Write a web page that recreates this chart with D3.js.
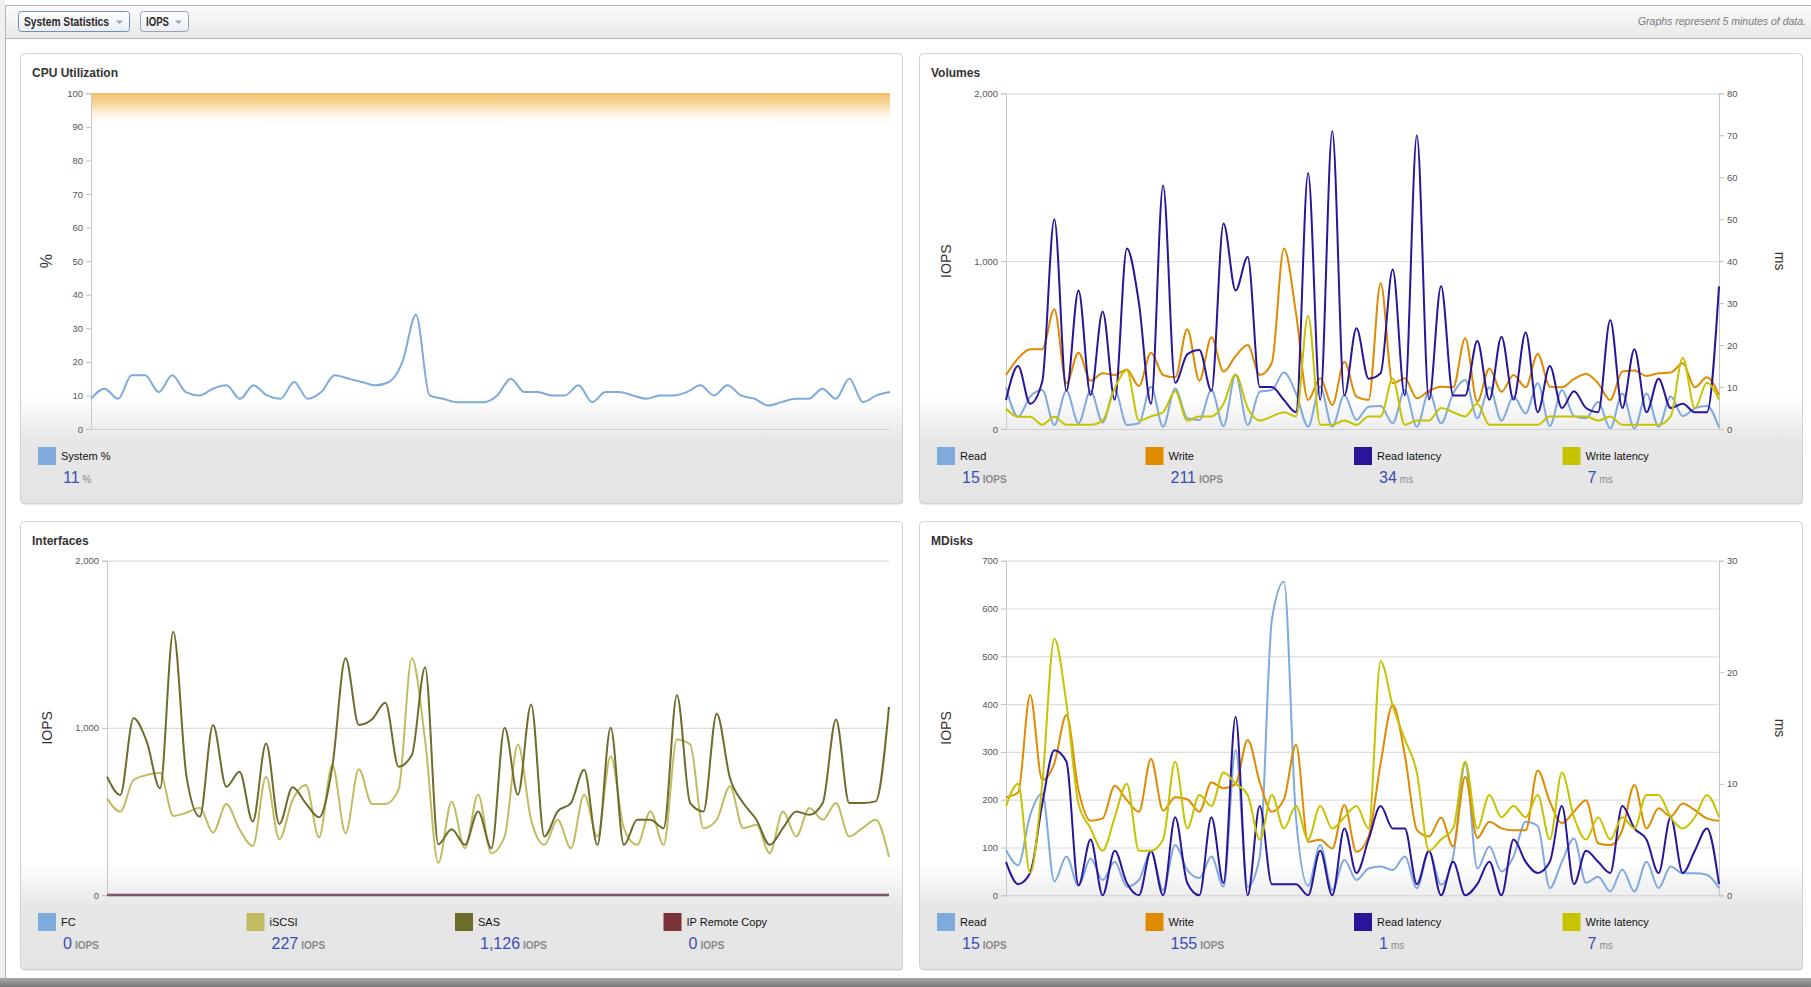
<!DOCTYPE html>
<html><head><meta charset="utf-8">
<script src="https://cdn.jsdelivr.net/npm/d3@7"></script>
<style>
html,body{margin:0;padding:0;background:#fff;}
svg{display:block;font-family:"Liberation Sans",Arial,sans-serif;}
</style></head>
<body>
<svg id="c" width="1811" height="987"></svg>
<script>
// ---------------- DATA ----------------
const cpuSystem = [9,12,9,16,16,11,16,11,10,12,13,9,13,10,9,14,9,11,16,15,14,13,14,20,34,10,9,8,
  8,8,10,15,11,11,10,10,13,8,11,11,10,9,10,10,11,13,10,13,10,9,7,8,9,9,12,9,15,8,10,11];

const volRead = [248,73,193,232,24,228,34,228,38,232,24,34,252,14,242,64,54,232,18,322,
  24,222,232,336,212,14,252,14,202,54,133,137,34,232,14,222,34,212,292,64,
  248,50,193,93,272,18,232,77,64,163,4,212,4,212,14,193,77,123,137,8];
const volWrite = [322,421,475,475,713,272,455,288,332,322,355,256,455,322,308,594,288,546,342,435,
  500,322,395,1076,689,173,302,143,401,193,173,868,272,302,183,228,252,248,540,163,
  361,222,322,248,447,252,248,298,328,272,173,342,348,316,332,336,391,248,308,202];
const volReadLatency = [6.9,15,6,11.3,50,9.1,33,8.1,28,7,43,30,6,58,11,17.8,18.8,9.1,49,33,
  41,10,10,6.9,4,61,6.9,71,8,24,12,13.3,38,8,70,7,34,8,8,21,
  7,22,7,23,4,15,5,9,5,4,26,5,19,4,12,5,6,4,4,34];
const volWriteLatency = [4.9,2.9,2.9,1,2.9,1,1,1,2,9.7,14,2,3,4,9,2,3,3,6,13,
  5,2,3,4,3,27,1,1,2,1,3,3,12,1,2,2,5,4,3,6,
  1,1,1,1,1,3,3,3,3,2,3,1,1,1,1,3,17,5,11,7];

const ifFC = [0,0,0,0,0,0,0,0,0,0,0,0,0,0,0,0,0,0,0,0,0,0,0,0,0,0,0,0,0,0,
  0,0,0,0,0,0,0,0,0,0,0,0,0,0,0,0,0,0,0,0,0,0,0,0,0,0,0,0,0,0];
const ifISCSI = [578,498,688,718,732,473,493,522,373,544,393,293,708,333,568,658,345,778,369,752,
  544,544,632,1416,927,193,558,280,600,250,350,900,450,300,450,280,600,350,830,400,
  300,500,300,930,900,400,450,650,400,420,250,500,350,520,450,550,350,400,450,227];
const ifSAS = [708,598,1057,917,638,1575,708,469,1017,648,738,439,907,425,644,548,465,768,1416,1017,
  1051,1150,768,837,1362,303,393,300,500,280,1000,600,1140,350,500,550,750,300,1000,300,
  450,450,400,1195,550,500,1085,700,550,450,300,400,500,480,550,1050,550,550,560,1126];
const ifIPRemoteCopy = [0,0,0,0,0,0,0,0,0,0,0,0,0,0,0,0,0,0,0,0,0,0,0,0,0,0,0,0,0,0,
  0,0,0,0,0,0,0,0,0,0,0,0,0,0,0,0,0,0,0,0,0,0,0,0,0,0,0,0,0,0];

const mdRead = [95,63,168,213,29,81,20,77,32,70,18,32,91,11,105,53,36,81,18,304,
  18,81,576,656,161,20,105,11,74,32,56,60,53,81,15,91,22,81,275,56,
  102,50,81,154,145,15,70,119,26,39,8,54,8,70,15,60,46,46,43,15];
const mdWrite = [205,215,419,241,276,377,220,156,161,229,199,175,285,177,205,201,175,236,224,233,
  325,236,175,201,315,112,116,98,189,91,123,276,398,294,137,123,162,102,248,120,
  154,140,136,136,261,196,151,175,199,109,105,137,231,140,182,165,192,178,161,156];
const mdReadLatency = [3,1,2,8.2,13,12,0.9,5,0,4,1.1,0,4,0,7,1.1,0,7,1.1,16,
  0,8,1,1,1,0,4,0,6,2,5,8,6,6,1,4,0,3,0,1,
  3,0,5,3,2,3,8,1,4,3,2,8,6,5,2,7,2,4,6,1];
const mdWriteLatency = [8,10,2,10,23,17.2,8.2,6,4,7,10,4,4,5,12,6,9,8,11,10,
  9,5,9,6,8,5,8,6,7,8,6,21,17,14,11,4,5,6,12,6,
  9,7,8,7,9,5,11,7,5,7,5,7,6,9,9,7,6,7,9,7];

const cpuTicks = [0,10,20,30,40,50,60,70,80,90,100];
const volIopsTicks = [0,1000,2000];
const volMsTicks = [0,10,20,30,40,50,60,70,80];
const ifTicks = [0,1000,2000];
const mdIopsTicks = [0,100,200,300,400,500,600,700];
const mdMsTicks = [0,10,20,30];

const cpuLegend = [{name:"System %", value:"11", unit:"%"}];
const volLegend = [{name:"Read",value:"15",unit:"IOPS"},{name:"Write",value:"211",unit:"IOPS"},
  {name:"Read latency",value:"34",unit:"ms"},{name:"Write latency",value:"7",unit:"ms"}];
const ifLegend = [{name:"FC",value:"0",unit:"IOPS"},{name:"iSCSI",value:"227",unit:"IOPS"},
  {name:"SAS",value:"1,126",unit:"IOPS"},{name:"IP Remote Copy",value:"0",unit:"IOPS"}];
const mdLegend = [{name:"Read",value:"15",unit:"IOPS"},{name:"Write",value:"155",unit:"IOPS"},
  {name:"Read latency",value:"1",unit:"ms"},{name:"Write latency",value:"7",unit:"ms"}];

// ---------------- STYLE ----------------
const C = {read:"#7eaadc", write:"#e08a00", rlat:"#29159a", wlat:"#c6c300",
  fc:"#7eaadc", iscsi:"#c1bc62", sas:"#6e6c2c", iprc:"#7a3338"};

const svg = d3.select("#c");
const defs = svg.append("defs");

function lg(id, stops, x1=0,y1=0,x2=0,y2=1){
  const g = defs.append("linearGradient").attr("id",id).attr("x1",x1).attr("y1",y1).attr("x2",x2).attr("y2",y2);
  stops.forEach(s=>g.append("stop").attr("offset",s[0]).attr("stop-color",s[1]).attr("stop-opacity",s[2]===undefined?1:s[2]));
}
lg("tb",[[0,"#fbfbfb"],[1,"#e8e8e8"]]);
lg("panelG",[[0,"#ffffff"],[0.76,"#ffffff"],[0.86,"#e7e7e7"],[1,"#e4e4e4"]]);
lg("dd",[[0,"#ffffff"],[1,"#e9edf2"]]);
lg("band",[[0,"#f5bf66",1],[0.35,"#f9d495",0.85],[1,"#ffffff",0]]);
lg("bot",[[0,"#a8a8a8"],[1,"#7a7a7a"]]);

// page frame
svg.append("rect").attr("x",0).attr("y",0).attr("width",5).attr("height",987).attr("fill","#efefef");
svg.append("line").attr("x1",5.5).attr("x2",5.5).attr("y1",5).attr("y2",979).attr("stroke","#b0b0b0");
svg.append("rect").attr("x",0).attr("y",978).attr("width",1811).attr("height",9).attr("fill","url(#bot)");

// toolbar
svg.append("rect").attr("x",5.5).attr("y",5.5).attr("width",1806).attr("height",33)
  .attr("fill","url(#tb)").attr("stroke","#b5b5b5");
function dropdown(x,w,label,stroke,tl){
  const g = svg.append("g");
  g.append("rect").attr("x",x+0.5).attr("y",11.5).attr("width",w).attr("height",20).attr("rx",3)
    .attr("fill","url(#dd)").attr("stroke",stroke);
  g.append("text").attr("x",x+6).attr("y",26).attr("font-size",12.5).attr("font-weight",600)
    .attr("textLength",tl).attr("lengthAdjust","spacingAndGlyphs")
    .attr("fill","#2a2a2a").text(label);
  g.append("path").attr("d",`M${x+w-13},20.5 l7,0 l-3.5,3.5 z`).attr("fill","#9aa6b8");
}
dropdown(18,111,"System Statistics","#6e8fb8",85);
dropdown(140,48,"IOPS","#9aa4b2",23);
svg.append("text").attr("x",1806).attr("y",25).attr("text-anchor","end").attr("font-size",10.5)
  .attr("font-style","italic").attr("fill","#7a7a7a").text("Graphs represent 5 minutes of data.");

// ---------------- PANELS ----------------
function panel(cfg){
  const g = svg.append("g");
  g.append("rect").attr("x",cfg.px+1).attr("y",cfg.py+1.5).attr("width",cfg.pw).attr("height",cfg.ph)
    .attr("rx",4).attr("fill","#d6d6d6");
  g.append("rect").attr("x",cfg.px+0.5).attr("y",cfg.py+0.5).attr("width",cfg.pw).attr("height",cfg.ph)
    .attr("rx",4).attr("fill","url(#panelG)").attr("stroke","#d2d2d2");
  g.append("text").attr("x",cfg.px+12).attr("y",cfg.py+24).attr("font-size",12).attr("font-weight","bold")
    .attr("fill","#333").text(cfg.title);

  const L=cfg.l, R=cfg.r, T=cfg.t, B=cfg.b;
  const x = d3.scaleLinear().domain([0, cfg.series[0].data.length-1]).range([L,R]);
  const y = d3.scaleLinear().domain(cfg.yDomain).range([B,T]);
  const y2 = cfg.y2Domain ? d3.scaleLinear().domain(cfg.y2Domain).range([B,T]) : null;

  if (cfg.band){
    g.append("rect").attr("x",L).attr("y",y(cfg.band[1])).attr("width",R-L)
      .attr("height",y(cfg.band[0])-y(cfg.band[1])).attr("fill","url(#band)");
    g.append("line").attr("x1",L).attr("x2",R).attr("y1",y(cfg.band[1])+0.5).attr("y2",y(cfg.band[1])+0.5)
      .attr("stroke","#efb452").attr("stroke-width",1);
  }
  if (cfg.grid){
    const gg = g.append("g").attr("transform",`translate(${L},0)`)
      .call(d3.axisLeft(y).tickValues(cfg.grid).tickSize(-(R-L)).tickFormat(""));
    gg.select(".domain").remove();
    gg.selectAll("line").attr("stroke","#dedede").attr("stroke-width",1.2);
  }
  const ax = g.append("g").attr("transform",`translate(${L},0)`)
    .call(d3.axisLeft(y).tickValues(cfg.yTicks).tickSize(5).tickPadding(3).tickFormat(d3.format(",")));
  ax.select(".domain").attr("stroke","#c8c8c8");
  ax.selectAll(".tick line").attr("stroke","#c0c0c0");
  ax.selectAll("text").attr("font-size",9.5).attr("fill","#555").attr("font-family","Liberation Sans, Arial, sans-serif");
  g.append("line").attr("x1",L).attr("x2",R).attr("y1",B+0.5).attr("y2",B+0.5).attr("stroke","#d0d0d0");
  if (y2){
    const ax2 = g.append("g").attr("transform",`translate(${R},0)`)
      .call(d3.axisRight(y2).tickValues(cfg.y2Ticks).tickSize(5).tickPadding(3).tickFormat(d3.format(",")));
    ax2.select(".domain").attr("stroke","#c8c8c8");
    ax2.selectAll(".tick line").attr("stroke","#c0c0c0");
    ax2.selectAll("text").attr("font-size",9.5).attr("fill","#555").attr("font-family","Liberation Sans, Arial, sans-serif");
    g.append("text").attr("transform",`translate(${cfg.px+cfg.pw-27},${(T+B)/2}) rotate(90)`)
      .attr("text-anchor","middle").attr("font-size",14).attr("fill","#333").text(cfg.y2Label);
  }
  g.append("text").attr("transform",`translate(${cfg.yLabelX},${(T+B)/2}) rotate(-90)`)
    .attr("text-anchor","middle").attr("dy","0.35em").attr("font-size",cfg.yLabelSize||14)
    .attr("fill","#333").text(cfg.yLabel);

  cfg.series.forEach(s=>{
    const sc = s.axis===2 ? y2 : y;
    const line = d3.line().x((d,i)=>x(i)).y(d=>sc(d)).curve(d3.curveMonotoneX);
    g.append("path").datum(s.data).attr("d",line).attr("fill","none").attr("stroke",s.color)
      .attr("stroke-width",s.width||2).attr("stroke-opacity",s.opacity||1).attr("stroke-linejoin","round");
  });

  cfg.legend.forEach((it,i)=>{
    const lx = cfg.px + 18 + i*208.5, ly = cfg.ly;
    g.append("rect").attr("x",lx).attr("y",ly).attr("width",18).attr("height",18).attr("fill",cfg.series[i].color);
    g.append("text").attr("x",lx+23).attr("y",ly+13).attr("font-size",11).attr("fill","#111").text(it.name);
    const t = g.append("text").attr("x",lx+25).attr("y",ly+36);
    t.append("tspan").attr("font-size",16).attr("fill","#3a4db5").text(it.value);
    t.append("tspan").attr("dx",3).attr("font-size",10).attr("font-weight", it.unit==="IOPS"?"bold":"normal")
      .attr("fill","#8a8a8a").text(it.unit);
  });
}

panel({px:20, py:53, pw:882, ph:450, title:"CPU Utilization", l:91, r:890, t:93.3, b:429,
  yDomain:[0,100], yTicks:cpuTicks, yLabel:"%", yLabelX:46, yLabelSize:16, band:[90,100],
  series:[{data:cpuSystem, color:C.read}], legend:cpuLegend, ly:447});

panel({px:919, py:53, pw:883, ph:450, title:"Volumes", l:1006, r:1719, t:93.3, b:429,
  yDomain:[0,2000], yTicks:volIopsTicks, grid:[1000,2000], yLabel:"IOPS", yLabelX:946,
  y2Domain:[0,80], y2Ticks:volMsTicks, y2Label:"ms",
  series:[{data:volRead,color:C.read},{data:volWrite,color:C.write},
          {data:volReadLatency,color:C.rlat,axis:2},{data:volWriteLatency,color:C.wlat,axis:2}],
  legend:volLegend, ly:447});

panel({px:20, py:521, pw:882, ph:448, title:"Interfaces", l:107, r:889, t:560.7, b:895,
  yDomain:[0,2000], yTicks:ifTicks, grid:[1000,2000], yLabel:"IOPS", yLabelX:47,
  series:[{data:ifFC,color:C.fc,width:2.5},{data:ifISCSI,color:C.iscsi},{data:ifSAS,color:C.sas},
          {data:ifIPRemoteCopy,color:C.iprc,opacity:0.7,width:2.5}],
  legend:ifLegend, ly:913});

panel({px:919, py:521, pw:883, ph:448, title:"MDisks", l:1006, r:1719, t:560.7, b:895.3,
  yDomain:[0,700], yTicks:mdIopsTicks, grid:[100,200,300,400,500,600,700], yLabel:"IOPS", yLabelX:946,
  y2Domain:[0,30], y2Ticks:mdMsTicks, y2Label:"ms",
  series:[{data:mdRead,color:C.read},{data:mdWrite,color:C.write},
          {data:mdReadLatency,color:C.rlat,axis:2},{data:mdWriteLatency,color:C.wlat,axis:2}],
  legend:mdLegend, ly:913});
</script>
</body></html>
